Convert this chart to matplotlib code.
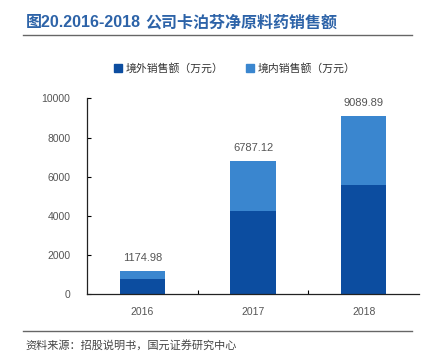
import matplotlib.pyplot as plt
from matplotlib.lines import Line2D
import numpy as np

plt.rcParams['font.family'] = ['Liberation Sans', 'Noto Sans CJK SC', 'DejaVu Sans']

#=== DATA ===#
years = ['2016', '2017', '2018']
totals = [1174.98, 6787.12, 9089.89]
overseas = [765, 4250, 5560]                      # 境外
domestic = [t - o for t, o in zip(totals, overseas)]  # 境内 = total - 境外
yticks = [0, 2000, 4000, 6000, 8000, 10000]

dark = '#0C4DA0'
light = '#3A86CF'
grey = '#555555'

#=== FIGURE ===#
fig = plt.figure(figsize=(4.23, 3.57), dpi=100)
W, H = 423, 357
ax = fig.add_axes([87 / W, (H - 294.3) / H, (419 - 87) / W, (294.3 - 98.3) / H])

x = np.arange(len(years))
ax.bar(x, overseas, width=0.41, color=dark, label='境外销售额（万元）')
ax.bar(x, domestic, width=0.41, bottom=overseas, color=light, label='境内销售额（万元）')

for xi, t in zip(x, totals):
    ax.text(xi, t + 430, f'{t:.2f}', ha='center', va='bottom', fontsize=8, color=grey)

ax.set_xlim(-0.5, 2.5)
ax.set_ylim(0, 10000)
ax.set_yticks(yticks)
ax.set_xticks(x)
ax.set_xticklabels(years)
ax.set_xticks([0.5, 1.5], minor=True)
ax.tick_params(axis='x', which='major', length=0, pad=9, labelsize=7.5, labelcolor=grey)
ax.tick_params(axis='x', which='minor', direction='in', length=3, width=0.8)
ax.tick_params(axis='y', direction='in', length=3, width=0.8, pad=12, labelsize=7.5, labelcolor=grey)
for s in ['top', 'right']:
    ax.spines[s].set_visible(False)
for s in ['left', 'bottom']:
    ax.spines[s].set_linewidth(0.9)
    ax.spines[s].set_color('#222222')

#=== TITLE, LEGEND, SOURCE ===#
fig.text(26 / W, 1 - 23 / H, '图20.2016-2018', fontsize=11.5, fontweight='bold',
         color='#2D63A8', ha='left', va='center')
fig.text(145 / W, 1 - 23 / H, '公司卡泊芬净原料药销售额', fontsize=11.5, fontweight='bold',
         color='#2D63A8', ha='left', va='center')
fig.add_artist(Line2D([23 / W, 412 / W], [1 - 35 / H] * 2, color='#666666', lw=1.0))
fig.add_artist(Line2D([23 / W, 412 / W], [1 - 331 / H] * 2, color='#666666', lw=1.0))
fig.text(25 / W, 1 - 345 / H, '资料来源：招股说明书，国元证券研究中心', fontsize=8, color='#444444',
         ha='left', va='center')

handles = [Line2D([], [], marker='s', ls='', color=dark, markersize=5.5),
           Line2D([], [], marker='s', ls='', color=light, markersize=5.5)]
fig.legend(handles, ['境外销售额（万元）', '境内销售额（万元）'], loc='center',
           bbox_to_anchor=(234 / W, 1 - 68 / H), ncol=2, frameon=False, fontsize=7.8,
           handletextpad=0.2, columnspacing=2.0, handlelength=1.0, labelcolor='#333333')

fig.savefig('out.png', dpi=100)
